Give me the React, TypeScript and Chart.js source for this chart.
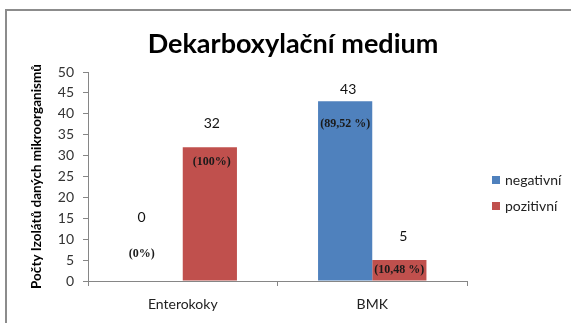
import React, { useEffect, useRef } from "react";
import { Chart, registerables } from "chart.js";

Chart.register(...registerables);

const categories = ["Enterokoky", "BMK"];
const seriesNames = ["negativní", "pozitivní"];
const negativeValues = [0, 43];
const positiveValues = [32, 5];
const negativePercent = ["(0%)", "(89,52 %)"];
const positivePercent = ["(100%)", "(10,48 %)"];
const yTicks = [0, 5, 10, 15, 20, 25, 30, 35, 40, 45, 50];
const chartTitle = "Dekarboxylační medium";
const yAxisTitle = "Počty Izolátů daných mikroorganismů";

const BLUE = "#4F81BD";
const RED = "#C0504D";
const AXIS = "#868686";
const FONT = "Lato, 'Noto Sans', sans-serif";

// pixel offsets of the labels relative to the bar top / bar centre [dataset][index]
const countOffsets = [
  [{ dx: -14, dy: -64 }, { dx: 3, dy: -12 }],
  [{ dx: 2, dy: -24 }, { dx: 4, dy: -24 }],
];
const pctOffsets = [
  [{ dx: -14, dy: -27 }, { dx: 0, dy: 23 }],
  [{ dx: 2, dy: 15 }, { dx: 0, dy: 10 }],
];

const decorPlugin = {
  id: "decor",
  beforeDraw(chart: any) {
    const ctx = chart.ctx;
    ctx.save();
    ctx.fillStyle = "#ffffff";
    ctx.fillRect(0, 0, chart.width, chart.height);
    ctx.fillStyle = "#8c8c8c";
    ctx.fillRect(5, 9, chart.width - 5, 2);
    ctx.fillRect(5, 9, 2, chart.height - 9);
    ctx.restore();
  },
  afterDraw(chart: any) {
    const ctx = chart.ctx;
    ctx.save();
    // title
    ctx.fillStyle = "#000000";
    ctx.font = `bold 27px ${FONT}`;
    ctx.textAlign = "center";
    ctx.textBaseline = "alphabetic";
    ctx.fillText(chartTitle, 293, 53);

    // legend
    const legendRows = [180, 206];
    chart.data.datasets.forEach((ds: any, i: number) => {
      const y = legendRows[i];
      ctx.fillStyle = ds.backgroundColor;
      ctx.fillRect(492, y - 4, 8, 8);
      ctx.fillStyle = "#222222";
      ctx.font = `14px ${FONT}`;
      ctx.textAlign = "left";
      ctx.textBaseline = "middle";
      ctx.fillText(ds.label, 505, y);
    });

    // data labels
    const pcts = [negativePercent, positivePercent];
    chart.data.datasets.forEach((ds: any, di: number) => {
      const meta = chart.getDatasetMeta(di);
      meta.data.forEach((bar: any, i: number) => {
        const co = countOffsets[di][i];
        const po = pctOffsets[di][i];
        ctx.fillStyle = "#111111";
        ctx.font = `14px ${FONT}`;
        ctx.textAlign = "center";
        ctx.textBaseline = "middle";
        ctx.fillText(String(ds.data[i]), bar.x + co.dx, bar.y + co.dy);
        ctx.font = `bold 12px 'Liberation Serif', serif`;
        ctx.fillStyle = "#1a1a1a";
        ctx.fillText(pcts[di][i], bar.x + po.dx, bar.y + po.dy);
      });
    });
    ctx.restore();
  },
};

export default function App() {
  const ref = useRef<HTMLCanvasElement>(null);
  useEffect(() => {
    document.body.style.margin = "0";
    const chart = new Chart(ref.current!, {
      type: "bar",
      data: {
        labels: categories,
        datasets: [
          {
            label: seriesNames[0],
            data: negativeValues,
            backgroundColor: BLUE,
            categoryPercentage: 0.572,
            barPercentage: 1,
          },
          {
            label: seriesNames[1],
            data: positiveValues,
            backgroundColor: RED,
            categoryPercentage: 0.572,
            barPercentage: 1,
          },
        ],
      },
      options: {
        responsive: false,
        animation: false,
        layout: { padding: { left: 0, top: 72, right: 104, bottom: 0 } },
        plugins: {
          legend: { display: false },
          title: { display: false },
          tooltip: { enabled: false },
        },
        scales: {
          x: {
            offset: true,
            grid: {
              display: true,
              drawOnChartArea: false,
              drawTicks: true,
              tickLength: 5,
              color: AXIS,
              offset: true,
            },
            border: { color: AXIS },
            ticks: {
              color: "#222222",
              font: { family: FONT, size: 14 },
              padding: 10,
            },
            afterFit: (scale: any) => {
              scale.height = 42;
            },
          },
          y: {
            min: 0,
            max: 50,
            afterBuildTicks: (scale: any) => {
              scale.ticks = yTicks.map((v) => ({ value: v }));
            },
            grid: {
              display: true,
              drawOnChartArea: false,
              drawTicks: true,
              tickLength: 5,
              color: AXIS,
            },
            border: { color: AXIS },
            ticks: {
              color: "#333333",
              font: { family: FONT, size: 14 },
              padding: 9,
            },
            title: {
              display: true,
              text: yAxisTitle,
              color: "#000000",
              font: { family: FONT, size: 13.5, weight: "bold" },
              padding: { top: 29, bottom: 0 },
            },
            afterFit: (scale: any) => {
              scale.width = 88;
            },
          },
        },
      },
      plugins: [decorPlugin],
    });
    return () => chart.destroy();
  }, []);
  return (
    <div style={{ position: "fixed", left: 0, top: 0, width: 571, height: 323 }}>
      <canvas ref={ref} width={571} height={323} />
    </div>
  );
}
